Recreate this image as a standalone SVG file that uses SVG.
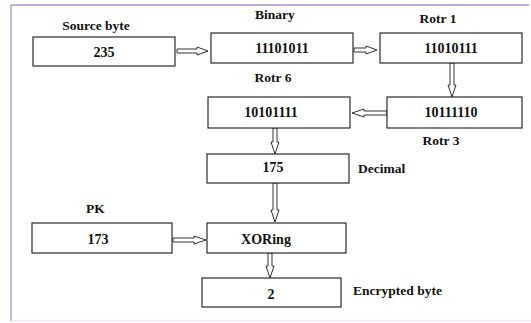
<svg xmlns="http://www.w3.org/2000/svg" width="531" height="323" viewBox="0 0 531 323">
  <style>
    .box { fill: #ffffff; stroke: #2a2a2a; stroke-width: 1.2; }
    .val { font-family: 'Liberation Serif', 'DejaVu Serif', 'Times New Roman', serif; font-weight: bold; font-size: 14px; fill: #111111; text-anchor: middle; }
    .lbl { font-family: 'Liberation Serif', 'DejaVu Serif', 'Times New Roman', serif; font-weight: bold; font-size: 13.5px; fill: #111111; }
    .arr { fill: #ffffff; stroke: #333333; stroke-width: 1; stroke-linejoin: miter; }
  </style>

  <!-- page frame -->
  <rect x="0" y="0" width="531" height="323" fill="#ffffff"/>
  <line x1="11" y1="5" x2="529" y2="5" stroke="#b48ac4" stroke-width="1.3"/>
  <line x1="11" y1="5" x2="11" y2="321" stroke="#b48ac4" stroke-width="1.3"/>
  <line x1="11" y1="321" x2="531" y2="321" stroke="#f3dcf3" stroke-width="1.2"/>

  <!-- connectors: hollow block arrows -->
  <g id="connectors">
    <polygon class="arr" points="177,49 197,49 197,47 208,51 197,55 197,53 177,53"/>
    <polygon class="arr" points="354,48 366,48 366,46 377,50 366,54 366,52 354,52"/>
    <polygon class="arr" points="450,63 450,85 448,85 452,97 456,85 454,85 454,63"/>
    <polygon class="arr" points="387,111 364,111 364,109 352,113 364,117 364,115 387,115"/>
    <polygon class="arr" points="273,128 273,142 271,142 275,154 279,142 277,142 277,128"/>
    <polygon class="arr" points="273,183 273,210 271,210 275,222 279,210 277,210 277,183"/>
    <polygon class="arr" points="173,238 194,238 194,236 206,240 194,244 194,242 173,242"/>
    <polygon class="arr" points="268,253 268,266 266,266 270,278 274,266 272,266 272,253"/>
  </g>

  <g id="source">
    <text class="lbl" x="96" y="30" text-anchor="middle">Source byte</text>
    <rect class="box" x="33" y="37" width="142" height="29"/>
    <text class="val" x="104" y="57">235</text>
  </g>

  <g id="binary">
    <text class="lbl" x="275" y="19" text-anchor="middle">Binary</text>
    <rect class="box" x="211" y="33" width="142" height="30"/>
    <text class="val" x="282" y="53">11101011</text>
  </g>

  <g id="rotr1">
    <text class="lbl" x="438" y="23" text-anchor="middle">Rotr 1</text>
    <rect class="box" x="380" y="33" width="142" height="30"/>
    <text class="val" x="451" y="53">11010111</text>
  </g>

  <g id="rotr3">
    <rect class="box" x="387" y="97" width="135" height="31"/>
    <text class="val" x="451" y="117">10111110</text>
    <text class="lbl" x="441" y="145" text-anchor="middle">Rotr 3</text>
  </g>

  <g id="rotr6">
    <text class="lbl" x="273" y="82" text-anchor="middle">Rotr 6</text>
    <rect class="box" x="208" y="97" width="142" height="31"/>
    <text class="val" x="271" y="117">10101111</text>
  </g>

  <g id="decimal">
    <rect class="box" x="207" y="154" width="142" height="29"/>
    <text class="val" x="273" y="172">175</text>
    <text class="lbl" x="358" y="173">Decimal</text>
  </g>

  <g id="pk">
    <text class="lbl" x="86" y="213">PK</text>
    <rect class="box" x="32" y="223" width="140" height="30"/>
    <text class="val" x="98" y="244">173</text>
  </g>

  <g id="xoring">
    <rect class="box" x="207" y="223" width="139" height="30"/>
    <text class="val" x="266" y="244">XORing</text>
  </g>

  <g id="encrypted">
    <rect class="box" x="202" y="278" width="139" height="29"/>
    <text class="val" x="271" y="299">2</text>
    <text class="lbl" x="353" y="295">Encrypted byte</text>
  </g>
</svg>
